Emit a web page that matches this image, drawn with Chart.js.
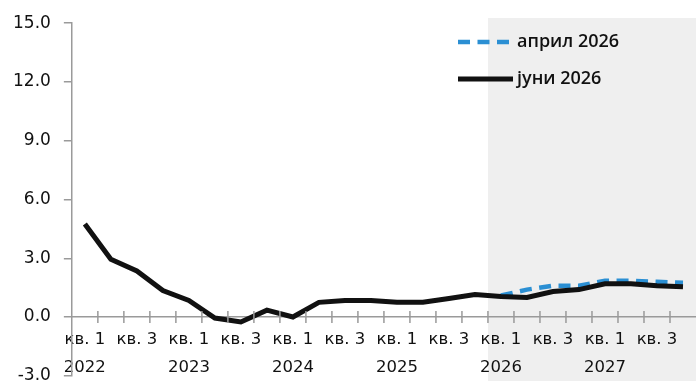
<!DOCTYPE html>
<html lang="mk">
<head>
    <meta charset="UTF-8">
    <title>Инфлација</title>
    <style>
        html, body { margin: 0; padding: 0; background: #fff; overflow: hidden; }
        #wrap { width: 696px; height: 399px; }
    </style>
</head>
<body>
    <div id="wrap"><canvas id="chart" width="696" height="399"></canvas></div>

    <script src="https://cdn.jsdelivr.net/npm/chart.js"></script>
    <script>
        // quarters Q1 2022 .. Q4 2027
        const categories = [
            '2022-1', '2022-2', '2022-3', '2022-4',
            '2023-1', '2023-2', '2023-3', '2023-4',
            '2024-1', '2024-2', '2024-3', '2024-4',
            '2025-1', '2025-2', '2025-3', '2025-4',
            '2026-1', '2026-2', '2026-3', '2026-4',
            '2027-1', '2027-2', '2027-3', '2027-4'
        ];
        const tickLabels = [
            ['кв. 1', '2022'], '', ['кв. 3', ''], '',
            ['кв. 1', '2023'], '', ['кв. 3', ''], '',
            ['кв. 1', '2024'], '', ['кв. 3', ''], '',
            ['кв. 1', '2025'], '', ['кв. 3', ''], '',
            ['кв. 1', '2026'], '', ['кв. 3', ''], '',
            ['кв. 1', '2027'], '', ['кв. 3', ''], ''
        ];
        const yTicks = [-3, 0, 3, 6, 9, 12, 15];

        // јуни 2026 projection
        const june2026 = [
            4.75, 2.95, 2.35, 1.35,
            0.85, -0.05, -0.25, 0.35,
            0.0, 0.75, 0.85, 0.85,
            0.75, 0.75, 0.95, 1.15,
            1.05, 1.0, 1.3, 1.4,
            1.7, 1.7, 1.6, 1.55
        ];
        // април 2026 projection (forecast period only)
        const april2026 = [
            null, null, null, null,
            null, null, null, null,
            null, null, null, null,
            null, null, null, null,
            1.1, 1.4, 1.6, 1.6,
            1.85, 1.85, 1.8, 1.75
        ];
        const forecastStart = 16; // first shaded quarter

        // grey box behind the forecast quarters (drawn before the axes)
        const shadePlugin = {
            id: 'shade',
            beforeDraw(chart) {
                const { ctx, scales: { x } } = chart;
                const half = (x.getPixelForValue(1) - x.getPixelForValue(0)) / 2;
                const left = x.getPixelForValue(forecastStart) - half;
                ctx.save();
                ctx.fillStyle = '#efefef';
                ctx.fillRect(left, 18, chart.width - left, chart.height - 18);
                ctx.restore();
            }
        };

        // quarter tick marks crossing the x axis line
        const xTicksPlugin = {
            id: 'xTicks',
            afterDatasetsDraw(chart) {
                const { ctx, scales: { x, y } } = chart;
                const y0 = y.getPixelForValue(0);
                const half = (x.getPixelForValue(1) - x.getPixelForValue(0)) / 2;
                ctx.save();
                ctx.strokeStyle = '#9a9a9a';
                ctx.lineWidth = 1.5;
                ctx.beginPath();
                for (let i = 1; i < categories.length; i++) {
                    const px = x.getPixelForValue(i) - half;
                    ctx.moveTo(px, y0 - 6);
                    ctx.lineTo(px, y0 + 6);
                }
                ctx.stroke();
                ctx.restore();
            }
        };

        // legend in the top right corner
        const legendPlugin = {
            id: 'cornerLegend',
            afterDraw(chart) {
                const { ctx } = chart;
                const items = [chart.data.datasets[1], chart.data.datasets[0]];
                ctx.save();
                ctx.font = '600 18px "Open Sans"';
                ctx.textBaseline = 'middle';
                items.forEach((ds, i) => {
                    const yy = 42 + i * 37;
                    ctx.strokeStyle = ds.borderColor;
                    ctx.lineWidth = ds.borderWidth;
                    ctx.setLineDash(ds.borderDash || []);
                    ctx.beginPath();
                    ctx.moveTo(458, yy);
                    ctx.lineTo(513, yy);
                    ctx.stroke();
                    ctx.setLineDash([]);
                    ctx.fillStyle = '#111';
                    ctx.fillText(ds.label, 517, yy);
                });
                ctx.restore();
            }
        };

        const ctx = document.getElementById('chart').getContext('2d');
        new Chart(ctx, {
            type: 'line',
            data: {
                labels: categories,
                datasets: [
                    {
                        label: 'јуни 2026',
                        data: june2026,
                        borderColor: '#111111',
                        borderWidth: 5,
                        pointRadius: 0,
                        tension: 0,
                        order: 0
                    },
                    {
                        label: 'април 2026',
                        data: april2026,
                        borderColor: '#2b8fd3',
                        borderWidth: 4.5,
                        borderDash: [12, 7.5],
                        pointRadius: 0,
                        tension: 0,
                        order: 1
                    }
                ]
            },
            options: {
                responsive: false,
                devicePixelRatio: 1,
                animation: false,
                layout: { padding: { left: 0, top: 14, right: 0, bottom: 7 } },
                plugins: {
                    legend: { display: false },
                    tooltip: { enabled: false }
                },
                scales: {
                    x: {
                        type: 'category',
                        position: { y: 0 },
                        offset: true,
                        grid: { display: true, drawOnChartArea: false, drawTicks: false, offset: true },
                        border: { display: true, color: '#9a9a9a', width: 1.5 },
                        ticks: {
                            autoSkip: false,
                            maxRotation: 0,
                            padding: 9,
                            color: '#111',
                            font: { family: 'DejaVu Sans', size: 16.5, lineHeight: 1.7 },
                            callback: (value, index) => tickLabels[index]
                        }
                    },
                    y: {
                        min: -3,
                        max: 15,
                        afterBuildTicks: (scale) => {
                            scale.ticks = yTicks.map(v => ({ value: v }));
                        },
                        grid: { drawOnChartArea: false, drawTicks: true, tickLength: 8, color: '#9a9a9a', lineWidth: 1.5 },
                        border: { display: true, color: '#9a9a9a', width: 1.5 },
                        ticks: {
                            padding: 13,
                            color: '#111',
                            font: { family: 'DejaVu Sans', size: 17 },
                            callback: (value) => value.toFixed(1)
                        }
                    }
                }
            },
            plugins: [shadePlugin, xTicksPlugin, legendPlugin]
        });
    </script>
</body>
</html>
